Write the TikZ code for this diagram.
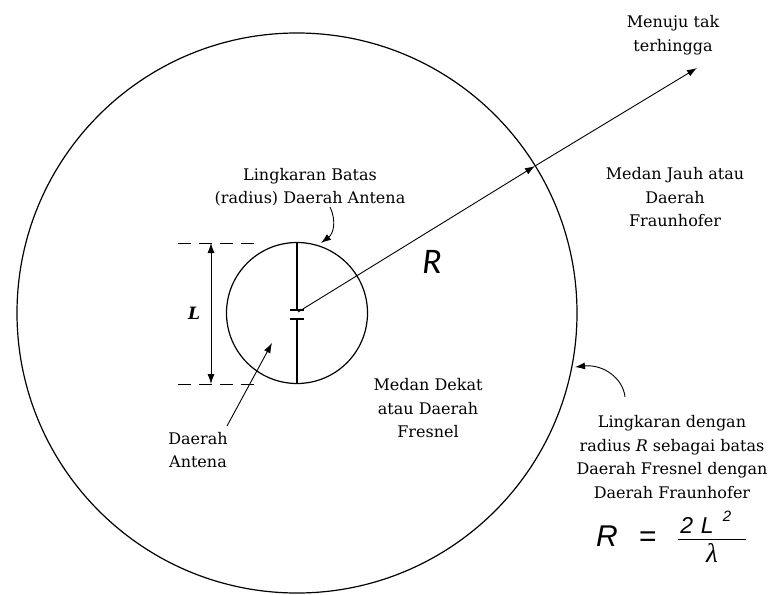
\documentclass[tikz,border=0pt]{standalone}
\usepackage{fontspec}
\setmainfont{DejaVu Serif}
\newfontfamily\carlito{Carlito}
\newfontfamily\arial{Liberation Sans}
\newfontfamily\tnr{Liberation Serif}
\usetikzlibrary{arrows.meta}
\begin{document}
\begin{tikzpicture}[x=1pt,y=-1pt,
  txt/.style={align=center,inner sep=0pt,font=\fontsize{16}{23.5}\selectfont},
  conn/.style={line width=0.9pt,-{Latex[length=10pt,width=7pt]}},
  circ/.style={draw,line width=1.2pt},
  antenna/.style={line width=2.8pt},
  dashline/.style={line width=1pt,dash pattern=on 13pt off 8pt},
  frm/.style={inner sep=0pt,anchor=base,font=\arial\itshape}
]
\useasboundingbox (0,0) rectangle (773,594);
\coordinate (c) at (297,313);
% circles
\draw[circ] (c) circle[radius=280];
\draw[circ] (c) circle[radius=70.5];
% antenna
\coordinate (at) at (297,243);
\coordinate (am1) at (297,310);
\coordinate (am2) at (297,319);
\coordinate (ab) at (297,384);
\draw[antenna] (at) -- (am1);
\draw[antenna] (am2) -- (ab);
\draw[line width=1.2pt] ([xshift=-7pt]am1) -- ([xshift=7pt]am1);
\draw[line width=1.2pt] ([xshift=-7pt]am2) -- ([xshift=7pt]am2);
% radial arrow
\coordinate (rs) at (298,312);
\coordinate (rx) at (535,166);
\coordinate (re) at (697,68);
\draw[conn] (rs) -- (rx);
\draw[conn] (rx) -- (re);
% dashed extension lines
\coordinate (d1a) at (178,243); \coordinate (d1b) at (254,243);
\coordinate (d2a) at (178,384); \coordinate (d2b) at (254,384);
\draw[dashline] (d1a) -- (d1b);
\draw[dashline] (d2a) -- (d2b);
% L dimension
\coordinate (la) at (211,243); \coordinate (lb) at (211,384);
\draw[line width=0.9pt,{Latex[length=10pt,width=7pt]}-{Latex[length=10pt,width=7pt]}] (la) -- (lb);
\node[inner sep=0pt,font=\fontsize{17}{20}\selectfont\bfseries\itshape] (L) at (194,313) {L};
% labels
\node[txt] (lb1) at (310,187) {Lingkaran Batas\\(radius) Daerah Antena};
\coordinate (lbt) at (321,243);
\draw[conn] (330,207) .. controls (337,222) and (333,234) .. (lbt);
\node[txt] (da) at (198,450) {Daerah\\Antena};
\coordinate (dat) at (272,343);
\draw[conn] (227,426) -- (dat);
\node[txt] (md) at (428,408.5) {Medan Dekat\\atau Daerah\\Fresnel};
\node[txt] (mj) at (675,197.5) {Medan Jauh atau\\Daerah\\Fraunhofer};
\node[txt] (mt) at (673,35) {Menuju tak\\terhingga};
\node[txt] (ld) at (672,457) {Lingkaran dengan\\radius \textit{R} sebagai batas\\Daerah Fresnel dengan\\Daerah Fraunhofer};
\coordinate (cs) at (625,397);
\coordinate (ct) at (575,367);
\draw[conn] (cs) .. controls (623,378) and (603,364) .. (ct);
% big R
\node[inner sep=0pt,font=\carlito\itshape\fontsize{36}{38}\selectfont] (R) at (432,262) {R};
% formula
\node[frm,font=\arial\itshape\fontsize{30}{32}\selectfont] (fR) at (607,546) {R};
\node[inner sep=0pt,anchor=base,font=\arial\fontsize{30}{32}\selectfont] (feq) at (648,546) {=};
\node[frm,font=\arial\itshape\fontsize{23}{25}\selectfont] (fn) at (697,533) {2\,\,L};
\node[frm,font=\arial\itshape\fontsize{15}{17}\selectfont] (fs) at (727,521) {2};
\node[frm,font=\tnr\itshape\fontsize{27}{29}\selectfont] (fl) at (712,562) {λ};
\coordinate (fb1) at (678,539); \coordinate (fb2) at (746,539);
\draw[line width=1pt] (fb1) -- (fb2);
\end{tikzpicture}
\end{document}
